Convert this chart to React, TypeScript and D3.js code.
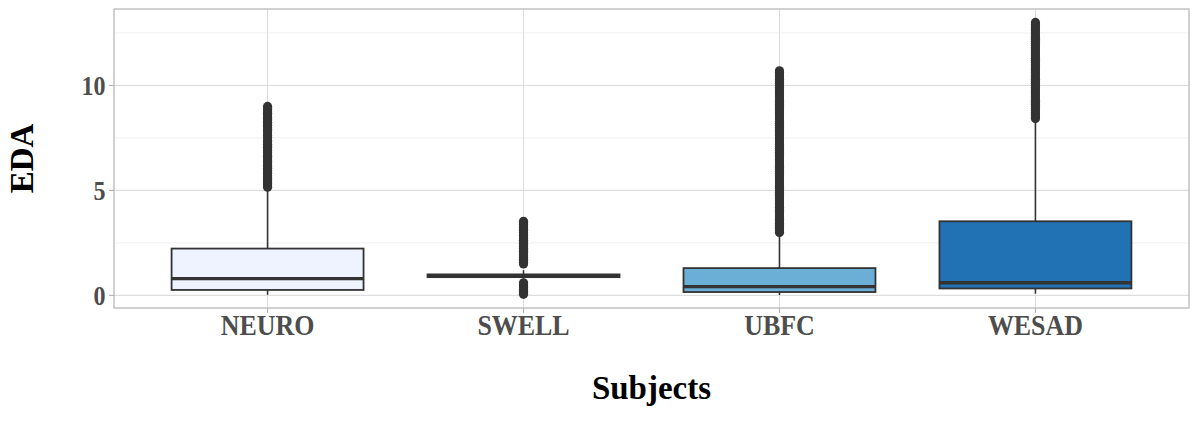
import React from "react";
import * as d3 from "d3";

const categories = ["NEURO", "SWELL", "UBFC", "WESAD"];
const fills = ["#eff3ff", "#bdd7e7", "#6baed6", "#2171b5"];
// box stats: [lowerWhisker, q1, median, q3, upperWhisker]
const neuroStats = [0.03, 0.26, 0.8, 2.23, 5.05];
const swellStats = [0.8, 0.87, 0.93, 1.0, 1.2];
const ubfcStats = [0.02, 0.16, 0.42, 1.3, 2.9];
const wesadStats = [0.08, 0.33, 0.6, 3.53, 8.3];

const neuroOutliers = [5.15, 5.22, 5.3, 5.38, 5.47, 5.55, 5.62, 5.7, 5.8, 5.88, 5.95, 6.05, 6.12, 6.2, 6.3, 6.38, 6.45, 6.55, 6.63, 6.7, 6.8, 6.88, 6.95, 7.05, 7.12, 7.2, 7.3, 7.38, 7.52, 7.62, 7.75, 7.85, 7.92, 8.0, 8.1, 8.18, 8.25, 8.35, 8.42, 8.5, 8.6, 8.68, 8.75, 8.85, 8.92, 9.0];
const swellOutliers = [0.05, 0.12, 0.2, 0.28, 0.36, 0.45, 0.52, 0.6, 1.5, 1.58, 1.65, 1.72, 1.8, 1.88, 1.95, 2.03, 2.1, 2.18, 2.25, 2.33, 2.4, 2.48, 2.55, 2.63, 2.7, 2.78, 2.85, 2.93, 3.0, 3.08, 3.15, 3.23, 3.3, 3.38, 3.45, 3.53];
const ubfcOutliers = [3.0, 3.08, 3.16, 3.25, 3.33, 3.42, 3.5, 3.58, 3.67, 3.75, 3.83, 3.92, 4.0, 4.1, 4.2, 4.3, 4.4, 4.5, 4.6, 4.7, 4.8, 4.9, 5.0, 5.1, 5.2, 5.3, 5.4, 5.5, 5.6, 5.7, 5.8, 5.9, 6.0, 6.1, 6.2, 6.3, 6.4, 6.5, 6.6, 6.7, 6.8, 6.9, 7.0, 7.1, 7.2, 7.3, 7.4, 7.5, 7.6, 7.7, 7.8, 7.9, 8.0, 8.1, 8.2, 8.3, 8.4, 8.5, 8.6, 8.7, 8.8, 8.9, 9.0, 9.1, 9.2, 9.3, 9.4, 9.5, 9.6, 9.7, 9.8, 9.9, 10.0, 10.1, 10.2, 10.3, 10.4, 10.5, 10.6, 10.7];
const wesadOutliers = [8.42, 8.5, 8.6, 8.7, 8.8, 8.9, 9.0, 9.1, 9.2, 9.3, 9.4, 9.5, 9.6, 9.7, 9.8, 9.9, 10.0, 10.1, 10.2, 10.3, 10.4, 10.5, 10.6, 10.7, 10.8, 10.9, 11.0, 11.1, 11.2, 11.3, 11.4, 11.5, 11.6, 11.7, 11.8, 11.9, 12.0, 12.1, 12.2, 12.3, 12.4, 12.5, 12.6, 12.7, 12.8, 12.9, 13.0];

const statsList = [neuroStats, swellStats, ubfcStats, wesadStats];
const outlierList = [neuroOutliers, swellOutliers, ubfcOutliers, wesadOutliers];

const yTicks = [0, 5, 10];
const yMinor = [2.5, 7.5, 12.5];
const yTitle = "EDA";
const xTitle = "Subjects";

const W = 1200;
const H = 421;
const panel = { left: 114, right: 1189, top: 9, bottom: 308 };
const FONT = "'Liberation Serif', 'Times New Roman', serif";

export default function App() {
  const y = d3.scaleLinear().domain([-0.6, 13.64]).range([panel.bottom, panel.top]);
  // ggplot-style discrete expansion: 0.6 units on each side
  const unit = (panel.right - panel.left) / 4.2;
  const x = d3
    .scaleLinear()
    .domain([0.4, categories.length + 0.6])
    .range([panel.left, panel.right]);
  const cx = (i: number) => x(i + 1);
  const bw = 0.75 * unit;
  const dark = "#333333";

  return (
    <svg width={W} height={H} style={{ position: "absolute", left: 0, top: 0, background: "#fff" }}>
      <rect x={0} y={0} width={W} height={H} fill="#fff" />
      {yMinor.map((v) => (
        <line key={"mn" + v} x1={panel.left} x2={panel.right} y1={y(v)} y2={y(v)} stroke="#ececec" strokeWidth={0.8} />
      ))}
      {yTicks.map((v) => (
        <line key={"mj" + v} x1={panel.left} x2={panel.right} y1={y(v)} y2={y(v)} stroke="#dedede" strokeWidth={1.1} />
      ))}
      {categories.map((c, i) => (
        <line key={"vg" + c} x1={cx(i)} x2={cx(i)} y1={panel.top} y2={panel.bottom} stroke="#dedede" strokeWidth={1.1} />
      ))}
      {categories.map((c, i) => {
        const s = statsList[i];
        const xc = cx(i);
        return (
          <g key={c}>
            <line x1={xc} x2={xc} y1={y(s[0])} y2={y(s[1])} stroke={dark} strokeWidth={1.6} />
            <line x1={xc} x2={xc} y1={y(s[3])} y2={y(s[4])} stroke={dark} strokeWidth={1.6} />
            <rect
              x={xc - bw / 2}
              y={y(s[3])}
              width={bw}
              height={y(s[1]) - y(s[3])}
              fill={fills[i]}
              stroke={dark}
              strokeWidth={1.8}
            />
            <line x1={xc - bw / 2} x2={xc + bw / 2} y1={y(s[2])} y2={y(s[2])} stroke={dark} strokeWidth={3.4} />
            {outlierList[i].map((v, k) => (
              <circle key={k} cx={xc} cy={y(v)} r={4.6} fill={dark} />
            ))}
          </g>
        );
      })}
      <rect
        x={panel.left}
        y={panel.top}
        width={panel.right - panel.left}
        height={panel.bottom - panel.top}
        fill="none"
        stroke="#b3b3b3"
        strokeWidth={1.2}
      />
      {yTicks.map((v) => (
        <g key={"yt" + v}>
          <line x1={panel.left - 5} x2={panel.left} y1={y(v)} y2={y(v)} stroke="#b3b3b3" strokeWidth={1.1} />
          <text
            transform={`translate(${panel.left - 8.5}, ${y(v) + 9.3}) scale(0.89, 1)`}
            textAnchor="end"
            fontFamily={FONT}
            fontWeight="bold"
            fontSize={27}
            fill="#4d4d4d"
          >
            {v}
          </text>
        </g>
      ))}
      {categories.map((c, i) => (
        <g key={"xt" + c}>
          <line x1={cx(i)} x2={cx(i)} y1={panel.bottom} y2={panel.bottom + 5} stroke="#b3b3b3" strokeWidth={1.1} />
          <text
            transform={`translate(${cx(i)}, 335) scale(0.91, 1)`}
            textAnchor="middle"
            fontFamily={FONT}
            fontWeight="bold"
            fontSize={28.5}
            fill="#4d4d4d"
          >
            {c}
          </text>
        </g>
      ))}
      <text
        x={(panel.left + panel.right) / 2}
        y={399}
        textAnchor="middle"
        fontFamily={FONT}
        fontWeight="bold"
        fontSize={33}
        fill="#000"
      >
        {xTitle}
      </text>
      <text
        transform={`translate(33, ${(panel.top + panel.bottom) / 2}) rotate(-90)`}
        textAnchor="middle"
        fontFamily={FONT}
        fontWeight="bold"
        fontSize={33}
        fill="#000"
      >
        {yTitle}
      </text>
    </svg>
  );
}
